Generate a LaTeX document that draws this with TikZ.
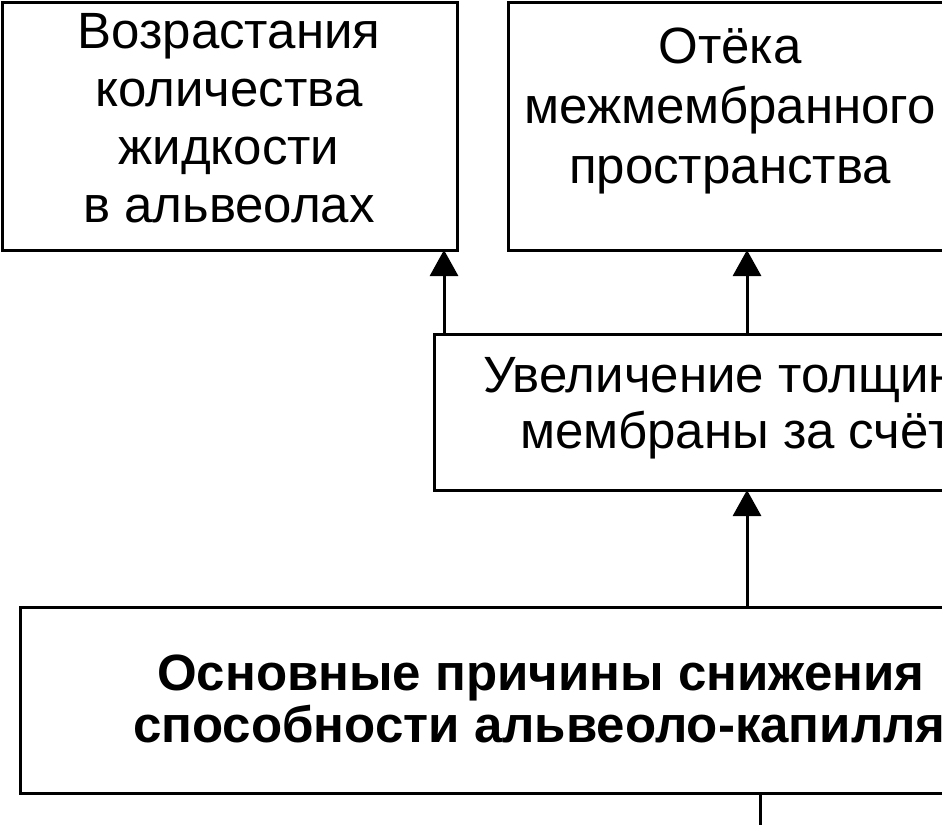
\documentclass[tikz,border=0pt]{standalone}
\usepackage{fontspec}
\setmainfont{Liberation Sans}
\usetikzlibrary{positioning,arrows.meta}
\tikzset{box/.style={draw=black, line width=3pt, inner sep=0pt, outer sep=0pt},
  txt/.style={anchor=base west, inner sep=0pt, font=\fontsize{51}{56}\selectfont},
  ctxt/.style={anchor=base, inner sep=0pt, align=center, font=\fontsize{51}{#1}\selectfont},
  boldtxt/.style={anchor=base west, inner sep=0pt, font=\fontsize{51}{52}\selectfont\bfseries},
  arr/.style={-{Triangle[width=28pt,length=26pt]}, line width=3pt}}

\begin{document}
\begin{tikzpicture}[x=1pt,y=1pt]
  \useasboundingbox (0,0) rectangle (942,-825);
  \clip (0,0) rectangle (942,-825);
  \node[box, minimum width=455pt, minimum height=248pt] (fluid) at (229.5,-126) {};
  \node[box, minimum width=440pt, minimum height=248pt] (edema) at (728,-126) {};
  \node[box, minimum width=700pt, minimum height=156pt] (thick) at (784,-412) {};
  \node[box, minimum width=1400pt, minimum height=186pt] (causes) at (720,-700) {};
  \node[ctxt=58] (fluidtext) at (229,-222) {Возрастания\\количества\\жидкости\\в альвеолах};
  \node[ctxt=60] (edematext) at (730,-183) {Отёка\\межмембранного\\пространства};
  \node[txt] (thicka) at (483,-392) {Увеличение толщины};
  \node[txt] (thickb) at (520,-448) {мембраны за счёт};
  \node[boldtxt] (causesa) at (157,-690) {Основные причины снижения};
  \node[boldtxt] (causesb) at (133,-742) {способности альвеоло-капилляр};
  \coordinate (left) at (444,-334);
  \coordinate (mid) at (747,-334);
  \coordinate (tail) at (760,-825);
  \draw[arr] (thick.north -| left) -- (fluid.south -| left);
  \draw[arr] (thick.north -| mid) -- (edema.south -| mid);
  \draw[arr] (causes.north -| mid) -- (thick.south -| mid);
  \draw[line width=3pt] (causes.south -| tail) -- (tail);
\end{tikzpicture}
\end{document}
